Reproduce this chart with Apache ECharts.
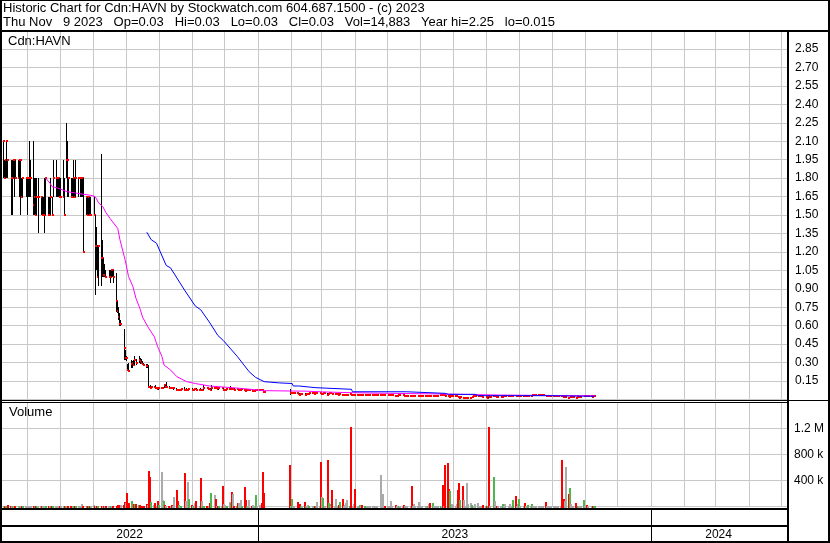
<!DOCTYPE html>
<html><head><meta charset="utf-8">
<script src="https://cdn.jsdelivr.net/npm/echarts@6/dist/echarts.min.js"></script>
<style>html,body{margin:0;padding:0;background:#fff}#c{width:830px;height:543px}</style>
</head><body><div id="c"></div>
<script>
// ---- axis calendar (one category per calendar day) ----
const AXIS_START = '2022-05-08';
const AXIS_DAYS = 729;
// ---- data calendar (one entry per weekday, starting Mon 2022-05-09) ----
const TRADE_START = '2022-05-09';

// ---- daily prices; null = no trading ----
const high = [
2.10,1.95,1.95,2.10,1.95,1.95,1.95,1.95,1.95,1.95,
1.95,1.95,1.95,1.80,1.80,1.80,1.80,1.80,2.10,1.95,
2.10,1.80,1.80,1.80,1.80,1.65,1.65,1.65,1.80,1.80,
1.65,1.65,1.80,1.65,1.95,1.95,1.80,1.80,1.80,1.80,
1.95,1.80,2.25,2.10,1.80,1.80,1.80,1.95,1.80,1.95,
1.80,1.80,1.80,1.80,1.80,1.65,1.65,1.65,1.65,1.65,
1.65,1.50,1.40,1.26,1.26,2.00,1.30,1.15,1.10,1.05,
1.05,1.05,1.05,1.05,1.05,1.03,0.80,0.75,0.70,0.65,
0.57,0.40,0.35,0.29,0.30,0.32,0.31,0.32,0.35,0.33,
0.35,0.34,0.33,0.31,0.30,0.29,0.29,0.28,0.12,0.11,
.11,.115,.10,.095,.095,.10,.095,.12,.115,.14,
.11,.10,.10,.095,.095,.09,.085,.085,.085,.09,
.10,.085,.09,.085,.09,.09,.085,.09,.09,.09,
.085,.09,.085,.085,.12,.095,.09,.09,.09,.12,
.10,.095,.095,.09,.09,.09,.09,.085,.085,.09,
.09,.11,.095,.09,.09,.09,.085,.085,.085,.09,
.085,.08,.08,.08,.08,.08,.075,.08,.085,.085,
.085,.085,.08,.075,.07,null,null,null,null,null,
null,null,null,null,null,null,null,null,null,null,
.085,.06,.06,.06,.06,.055,.05,.05,.05,.05,
.05,.045,.05,.05,.055,.055,.055,.05,.05,.055,
.055,.05,.05,.055,.05,.05,.05,.055,.05,.055,
.05,.05,.05,.045,.05,.045,.045,.045,.045,.045,
.05,.045,.045,.045,.04,.04,.04,.045,.045,.04,
.045,.045,.045,.045,.045,.045,.045,.045,.045,.045,
.045,.045,.045,.045,.04,.04,.04,.04,.04,.04,
.035,.035,.035,.04,.04,.04,.035,.035,.035,.035,
.035,.035,.03,.03,.03,.03,.03,.03,.03,.03,
.03,.03,.035,.035,.03,.035,.035,.035,.035,.035,
.04,.045,.04,.04,.035,.03,.025,.03,.03,.03,
.03,.03,.025,.02,.025,.02,.02,.02,.02,.02,
.02,.025,.03,.03,.03,.03,.03,.03,.03,.025,
.025,.02,.025,.025,.025,.03,.03,.03,.025,.025,
.025,.025,.03,.03,.03,.03,.03,.03,.03,.035,
.03,.03,.03,.035,.035,.035,.03,.03,.03,.035,
.035,.04,.04,.04,.04,.04,.04,.04,.04,.04,
.035,.035,.035,.035,.035,.035,.035,.035,.035,.035,
.035,.03,.025,.025,.025,.02,.025,.025,.025,.025,
.02,.025,.025,.025,.025,.035,.035,.035,.03,.03,
.03,.025,.03,.03];
const low = [
1.80,1.80,1.80,1.80,1.80,1.50,1.50,1.80,1.65,1.80,
1.80,1.65,1.50,1.65,1.65,1.65,1.50,1.65,1.65,1.65,
1.50,1.50,1.50,1.50,1.35,1.50,1.50,1.50,1.35,1.50,
1.50,1.50,1.50,1.50,1.65,1.65,1.65,1.65,1.65,1.65,
1.65,1.50,1.80,1.65,1.65,1.65,1.65,1.65,1.65,1.65,
1.65,1.65,1.65,1.65,1.20,1.50,1.50,1.50,1.50,1.50,
1.50,0.85,1.05,1.00,0.92,0.92,1.00,1.00,1.00,1.00,
1.00,0.95,1.00,1.00,0.95,0.71,0.70,0.65,0.60,0.60,
0.32,0.32,0.31,0.24,0.23,0.26,0.26,0.27,0.28,0.28,
0.30,0.29,0.29,0.28,0.27,0.26,0.26,0.10,0.09,0.09,
.095,.09,.085,.08,.08,.085,.085,.09,.10,.095,
.09,.085,.085,.085,.08,.08,.075,.075,.08,.08,
.075,.075,.075,.075,.08,.08,.08,.08,.08,.08,
.075,.075,.075,.075,.08,.085,.08,.08,.075,.08,
.09,.085,.085,.08,.08,.085,.075,.075,.075,.08,
.08,.085,.08,.08,.075,.08,.075,.075,.075,.08,
.07,.065,.07,.07,.07,.07,.07,.07,.07,.075,
.075,.075,.07,.06,.055,null,null,null,null,null,
null,null,null,null,null,null,null,null,null,null,
.035,.045,.05,.05,.05,.045,.04,.04,.04,.045,
.04,.04,.045,.045,.045,.045,.045,.045,.045,.045,
.045,.04,.04,.045,.045,.04,.04,.045,.045,.045,
.045,.045,.045,.04,.04,.04,.04,.04,.04,.04,
.04,.035,.035,.035,.035,.035,.035,.035,.035,.035,
.035,.035,.04,.035,.035,.04,.035,.035,.04,.035,
.035,.035,.035,.035,.035,.03,.035,.03,.035,.03,
.03,.03,.03,.03,.03,.03,.03,.03,.03,.03,
.03,.025,.025,.025,.025,.02,.025,.025,.02,.025,
.025,.025,.025,.025,.025,.025,.025,.025,.025,.025,
.03,.035,.03,.03,.025,.02,.015,.02,.02,.02,
.02,.02,.015,.015,.015,.015,.015,.015,.015,.015,
.015,.015,.02,.02,.02,.02,.02,.02,.02,.02,
.02,.015,.015,.015,.02,.02,.02,.02,.02,.02,
.02,.02,.02,.02,.02,.02,.02,.02,.02,.025,
.025,.02,.02,.025,.025,.025,.02,.02,.02,.025,
.025,.03,.03,.03,.03,.03,.03,.03,.03,.03,
.025,.025,.025,.025,.025,.025,.025,.025,.025,.025,
.025,.02,.015,.015,.015,.015,.015,.015,.02,.02,
.015,.015,.015,.015,.015,.02,.025,.025,.02,.02,
.02,.02,.02,.03];
const close = [
2.10,1.80,1.95,2.10,1.95,1.80,1.80,1.95,1.95,1.80,
1.80,1.95,1.95,1.65,1.80,1.80,1.80,1.80,1.80,1.80,
1.58,1.65,1.50,1.65,1.65,1.65,1.50,1.50,1.50,1.80,
1.50,1.50,1.65,1.50,1.80,1.80,1.80,1.80,1.65,1.65,
1.65,1.50,1.95,1.95,1.80,1.65,1.65,1.80,1.65,1.80,
1.80,1.80,1.80,1.80,1.20,1.65,1.50,1.65,1.50,1.50,
1.50,1.25,1.25,1.00,1.25,1.15,1.15,1.01,1.01,1.00,
1.00,1.00,1.05,1.05,1.00,0.80,0.72,0.67,0.61,0.61,
0.42,0.34,0.34,0.24,0.23,0.29,0.30,0.28,0.32,0.30,
0.32,0.31,0.30,0.29,0.28,0.27,0.27,0.10,0.09,0.10,
.100,.090,.090,.085,.090,.090,.090,.115,.105,.105,
.095,.095,.090,.090,.090,.080,.075,.080,.080,.085,
.080,.080,.080,.080,.085,.080,.080,.085,.085,.080,
.080,.075,.075,.080,.095,.090,.085,.085,.080,.095,
.095,.090,.090,.085,.090,.090,.080,.080,.080,.085,
.085,.095,.085,.085,.080,.085,.080,.080,.080,.085,
.075,.070,.075,.075,.075,.070,.070,.070,.080,.080,
.080,.080,.075,.065,.060,null,null,null,null,null,
null,null,null,null,null,null,null,null,null,null,
.050,.050,.055,.055,.055,.050,.045,.040,.045,.045,
.040,.045,.045,.045,.050,.050,.050,.045,.050,.050,
.050,.045,.045,.050,.050,.040,.045,.050,.050,.045,
.045,.045,.045,.040,.045,.040,.040,.040,.040,.040,
.045,.040,.040,.040,.035,.035,.035,.040,.040,.035,
.040,.040,.040,.040,.040,.040,.040,.040,.040,.040,
.040,.040,.040,.040,.035,.035,.035,.035,.035,.035,
.030,.030,.030,.035,.035,.035,.030,.030,.030,.030,
.030,.025,.025,.025,.025,.025,.025,.025,.025,.025,
.025,.025,.030,.030,.025,.030,.030,.030,.030,.030,
.040,.040,.035,.035,.030,.025,.020,.025,.025,.025,
.025,.025,.020,.015,.020,.015,.015,.015,.015,.015,
.015,.020,.025,.025,.025,.025,.025,.025,.025,.020,
.020,.015,.025,.020,.020,.025,.025,.025,.020,.020,
.020,.020,.025,.025,.025,.025,.025,.025,.025,.030,
.025,.025,.025,.030,.030,.030,.025,.025,.025,.030,
.030,.035,.035,.035,.035,.035,.035,.035,.035,.035,
.030,.030,.030,.030,.030,.030,.030,.030,.030,.030,
.030,.025,.020,.020,.020,.015,.020,.020,.020,.020,
.015,.020,.020,.020,.020,.030,.030,.030,.025,.025,
.025,.020,.025,.030];
const volume = [
12000,8000,15000,6000,30000,10000,5000,12000,8000,6000,
9000,14000,7000,5000,11000,6000,8000,5000,12000,7000,
10000,6000,9000,5000,8000,12000,6000,5000,7000,9000,
6000,8000,5000,10000,7000,6000,9000,5000,8000,6000,
11000,7000,14000,9000,6000,5000,8000,6000,10000,7000,
8000,6000,9000,35000,12000,7000,8000,6000,10000,9000,
20000,15000,10000,8000,12000,9000,6000,10000,8000,7000,
9000,6000,12000,8000,10000,15000,18000,20000,22000,25000,
26000,66000,60000,205000,50000,92000,10000,40000,38000,35000,
30000,25000,8000,10000,12000,40000,20000,543000,451000,70000,
20000,60000,15000,92000,20000,528000,100000,80000,20000,10000,
10000,10000,30000,10000,143000,261000,92000,20000,10000,15000,
508000,92000,10000,374000,120000,30000,10000,10000,50000,90000,
15000,436000,92000,10000,15000,10000,10000,10000,50000,205000,
170000,120000,10000,10000,15000,10000,323000,40000,30000,15000,
70000,50000,230000,195000,10000,10000,50000,60000,100000,10000,
297000,100000,10000,10000,100000,10000,20000,10000,170000,10000,
20000,10000,60000,528000,205000,null,null,null,null,null,
null,null,null,null,null,null,null,null,null,null,
646000,15000,108000,10000,15000,62000,40000,40000,10000,10000,
62000,10000,10000,30000,10000,10000,10000,10000,10000,62000,
10000,692000,143000,130000,10000,708000,50000,40000,10000,261000,
10000,108000,10000,20000,70000,108000,10000,30000,50000,100000,
10000,1220000,10000,40000,272000,10000,10000,30000,10000,30000,
10000,5000,5000,5000,5000,5000,10000,5000,10000,5000,
477000,20000,195000,10000,10000,5000,5000,5000,80000,5000,
20000,5000,5000,10000,5000,5000,20000,5000,5000,5000,
5000,323000,10000,40000,5000,5000,70000,5000,5000,5000,
10000,5000,10000,40000,50000,50000,5000,5000,10000,5000,
10000,5000,334000,10000,631000,672000,272000,231000,40000,25000,
10000,40000,256000,364000,100000,323000,100000,10000,364000,40000,
50000,25000,10000,5000,45000,60000,5000,10000,5000,20000,
5000,10000,5000,1220000,5000,451000,85000,5000,10000,10000,
5000,5000,40000,5000,40000,5000,40000,5000,5000,100000,
154000,5000,40000,118000,5000,5000,50000,5000,5000,25000,
5000,40000,5000,5000,10000,5000,5000,5000,10000,5000,
70000,5000,5000,5000,5000,5000,5000,5000,10000,5000,
5000,708000,108000,85000,605000,185000,282000,40000,5000,5000,
60000,5000,5000,5000,5000,100000,5000,5000,30000,5000,
5000,10000,5000,14883];

// ---- moving averages: [tradingDayIndex, value] ----
const maFast = [[29,1.80],[31,1.76],[33,1.73],[36,1.72],[39,1.71],[43,1.69],[48,1.68],[53,1.67],[59,1.66],[61,1.65],[63,1.62],[64,1.60],[66,1.57],[69,1.52],[71,1.47],[76,1.39],[78,1.30],[81,1.13],[84,1.00],[86,0.92],[89,0.82],[91,0.73],[93,0.67],[96,0.59],[100,0.51],[103,0.43],[105,0.35],[107,0.28],[111,0.24],[115,0.185],[122,0.145],[128,0.13],[137,0.11],[144,0.104],[159,0.09],[174,0.072],[190,0.069],[200,0.068],[212,0.062],[225,0.057],[245,0.052],[270,0.048],[290,0.045],[310,0.04],[330,0.036],[360,0.033],[393,0.03]];
const maSlow = [[95,1.36],[99,1.30],[102,1.27],[109,1.09],[111,1.07],[120,0.89],[128,0.76],[131,0.73],[137,0.63],[143,0.52],[146,0.48],[155,0.35],[164,0.226],[168,0.18],[174,0.145],[184,0.135],[192,0.13],[193,0.11],[196,0.11],[197,0.096],[208,0.096],[209,0.083],[231,0.083],[232,0.063],[268,0.063],[269,0.05],[294,0.05],[295,0.042],[314,0.042],[315,0.031],[360,0.031],[361,0.026],[393,0.026]];

// ---- text ----
const TITLE1 = 'Historic Chart for Cdn:HAVN by Stockwatch.com 604.687.1500 - (c) 2023';
const TITLE2 = 'Thu Nov   9 2023   Op=0.03   Hi=0.03   Lo=0.03   Cl=0.03   Vol=14,883   Year hi=2.25   lo=0.015';
const SYMBOL = 'Cdn:HAVN';
const VOL_LABEL = 'Volume';

// ---------------------------------------------------------------
function buildDays(start, n, weekdaysOnly) {
  const out = []; const d = new Date(start + 'T00:00:00Z');
  while (out.length < n) {
    const w = d.getUTCDay();
    if (!weekdaysOnly || (w !== 0 && w !== 6)) out.push(d.toISOString().slice(0, 10));
    d.setUTCDate(d.getUTCDate() + 1);
  }
  return out;
}
const axisDates = buildDays(AXIS_START, AXIS_DAYS, false);
const tradeDates = buildDays(TRADE_START, close.length, true);

const monthStart = [], yearStart = new Set(), yearMid = new Set();
const yearSpan = {};
axisDates.forEach((d, i) => {
  if (i > 0 && d.slice(0, 7) !== axisDates[i - 1].slice(0, 7)) monthStart.push(i);
  if (i > 0 && d.slice(0, 4) !== axisDates[i - 1].slice(0, 4)) yearStart.add(i);
  const y = d.slice(0, 4); if (!yearSpan[y]) yearSpan[y] = [i, i]; yearSpan[y][1] = i;
});
Object.values(yearSpan).forEach(s => yearMid.add(Math.floor((s[0] + s[1]) / 2)));

const FONT = '"Liberation Sans", Arial, sans-serif';
const GRID_LINE = '#c8c8c8';
const UP = '#4cb84c', DOWN = '#ff0000', FLAT = '#aaaaaa';

const ohlcData = [], volData = [];
let prev = null;
for (let i = 0; i < close.length; i++) {
  if (close[i] == null) continue;
  ohlcData.push([tradeDates[i], high[i], low[i], close[i]]);
  const dir = prev == null ? 0 : (close[i] > prev ? 1 : close[i] < prev ? -1 : 0);
  volData.push([tradeDates[i], volume[i], dir]);
  prev = close[i];
}
const monthLineData = monthStart.map(i => [axisDates[i], 0]);
const fastLine = maFast.map(p => [tradeDates[p[0]], p[1]]);
const slowLine = maSlow.map(p => [tradeDates[p[0]], p[1]]);

const chart = echarts.init(document.getElementById('c'), null, { renderer: 'canvas' });
const GL = 2, GR = 43;
function catAxis(gridIndex, extra) {
  return Object.assign({
    type: 'category', gridIndex, data: axisDates, boundaryGap: true,
    axisLine: { show: false }, axisTick: { show: false }, axisLabel: { show: false },
    splitLine: { show: false }
  }, extra || {});
}
// vertical month grid line at the left edge of each month's first day band
function monthLine(params, api) {
  const c = api.coord([api.value(0), 0]);
  const w = api.size([1, 0])[0];
  const x = Math.floor(c[0] - w / 2) + 0.5;
  const cs = params.coordSys;
  return { type: 'line', shape: { x1: x, y1: cs.y, x2: x, y2: cs.y + cs.height }, style: { stroke: GRID_LINE, lineWidth: 1 } };
}
chart.setOption({
  animation: false,
  backgroundColor: '#ffffff',
  grid: [
    { left: GL, right: GR, top: 30.5, height: 369 },
    { left: GL, right: GR, top: 402.5, height: 104 },
    { left: GL, right: GR, top: 509, height: 33 }
  ],
  xAxis: [
    catAxis(0), catAxis(1),
    catAxis(2, {
      splitLine: { show: true, interval: (i) => yearStart.has(i), lineStyle: { color: '#000', width: 1 } },
      axisLabel: { show: true, inside: true, margin: 1, interval: (i) => yearMid.has(i),
        formatter: (v) => v.slice(0, 4), color: '#000', fontSize: 12, fontFamily: FONT }
    })
  ],
  yAxis: [
    { type: 'value', gridIndex: 0, position: 'right', min: 0, max: 3, interval: 0.15,
      axisLine: { show: false }, axisTick: { show: false },
      axisLabel: { margin: 8, showMinLabel: false, showMaxLabel: false, formatter: (v) => v.toFixed(2), color: '#000', fontSize: 12, fontFamily: FONT },
      splitLine: { show: true, lineStyle: { color: GRID_LINE, width: 1 } } },
    { type: 'value', gridIndex: 1, position: 'right', min: 0, max: 1600000, interval: 400000,
      axisLine: { show: false }, axisTick: { show: false },
      axisLabel: { margin: 7, showMinLabel: false, showMaxLabel: false, color: '#000', fontSize: 12, fontFamily: FONT,
        formatter: (v) => v >= 1e6 ? (v / 1e6) + ' M' : (v / 1e3) + ' k' },
      splitLine: { show: true, lineStyle: { color: GRID_LINE, width: 1 } } },
    { type: 'value', gridIndex: 2, show: false, min: 0, max: 1 }
  ],
  series: [
    { type: 'custom', xAxisIndex: 0, yAxisIndex: 0, data: monthLineData, encode: { x: 0, y: 1 }, z: 1, silent: true, renderItem: monthLine },
    { type: 'custom', xAxisIndex: 1, yAxisIndex: 1, data: monthLineData, encode: { x: 0, y: 1 }, z: 1, silent: true, renderItem: monthLine },
    { type: 'line', xAxisIndex: 0, yAxisIndex: 0, data: fastLine, showSymbol: false, symbol: 'none',
      lineStyle: { color: '#ff00ff', width: 1 }, z: 3, silent: true },
    { type: 'line', xAxisIndex: 0, yAxisIndex: 0, data: slowLine, showSymbol: false, symbol: 'none',
      lineStyle: { color: '#0000ff', width: 1 }, z: 3, silent: true },
    { type: 'custom', xAxisIndex: 0, yAxisIndex: 0, data: ohlcData, encode: { x: 0, y: [1, 2, 3] }, z: 2, silent: true,
      renderItem: (params, api) => {
        const idx = api.value(0);
        const ph = api.coord([idx, api.value(1)]), pl = api.coord([idx, api.value(2)]), pc = api.coord([idx, api.value(3)]);
        const x = Math.floor(ph[0]) + 0.5;
        const y1 = Math.round(ph[1]), y2 = Math.max(Math.round(pl[1]), y1 + 1);
        return { type: 'group', children: [
          { type: 'line', shape: { x1: x, y1: y1, x2: x, y2: y2 }, style: { stroke: '#000', lineWidth: 1 } },
          { type: 'rect', shape: { x: Math.floor(pc[0]), y: Math.round(pc[1]) - 1, width: 2, height: 2 }, style: { fill: DOWN } }
        ] };
      } },
    { type: 'custom', xAxisIndex: 1, yAxisIndex: 1, data: volData, encode: { x: 0, y: 1 }, z: 2, silent: true,
      renderItem: (params, api) => {
        const idx = api.value(0);
        const p = api.coord([idx, api.value(1)]), p0 = api.coord([idx, 0]);
        const dir = api.value(2);
        const top = Math.round(p[1]);
        return { type: 'rect', shape: { x: Math.round(p[0] - 1), y: top, width: 2, height: Math.round(p0[1]) + 2 - top },
          style: { fill: dir > 0 ? UP : dir < 0 ? DOWN : FLAT } };
      } }
  ],
  graphic: { elements: [
    { type: 'text', x: 3, y: 2, z: 50, silent: true, style: { text: TITLE1, fill: '#000', font: '13px ' + FONT, textVerticalAlign: 'top' } },
    { type: 'text', x: 3, y: 16, z: 50, silent: true, style: { text: TITLE2, fill: '#000', font: '13px ' + FONT, textVerticalAlign: 'top' } },
    { type: 'text', x: 8, y: 35, z: 50, silent: true, style: { text: SYMBOL, fill: '#000', font: '13px ' + FONT, textVerticalAlign: 'top' } },
    { type: 'text', x: 9, y: 406, z: 50, silent: true, style: { text: VOL_LABEL, fill: '#000', font: '13px ' + FONT, textVerticalAlign: 'top' } },
    { type: 'rect', z: 60, silent: true, shape: { x: 0, y: 0, width: 830, height: 1 }, style: { fill: '#000' } },
    { type: 'rect', z: 60, silent: true, shape: { x: 0, y: 0, width: 2, height: 543 }, style: { fill: '#000' } },
    { type: 'rect', z: 60, silent: true, shape: { x: 828, y: 0, width: 2, height: 543 }, style: { fill: '#000' } },
    { type: 'rect', z: 60, silent: true, shape: { x: 0, y: 541, width: 830, height: 2 }, style: { fill: '#000' } },
    { type: 'rect', z: 60, silent: true, shape: { x: 0, y: 30, width: 830, height: 2 }, style: { fill: '#000' } },
    { type: 'rect', z: 60, silent: true, shape: { x: 787, y: 30, width: 2, height: 513 }, style: { fill: '#000' } },
    { type: 'rect', z: 60, silent: true, shape: { x: 0, y: 400, width: 830, height: 1 }, style: { fill: '#000' } },
    { type: 'rect', z: 60, silent: true, shape: { x: 0, y: 402, width: 787, height: 1 }, style: { fill: '#000' } },
    { type: 'rect', z: 60, silent: true, shape: { x: 0, y: 508, width: 787, height: 2 }, style: { fill: '#000' } },
    { type: 'rect', z: 60, silent: true, shape: { x: 0, y: 525, width: 787, height: 2 }, style: { fill: '#000' } }
  ] }
});
</script></body></html>
